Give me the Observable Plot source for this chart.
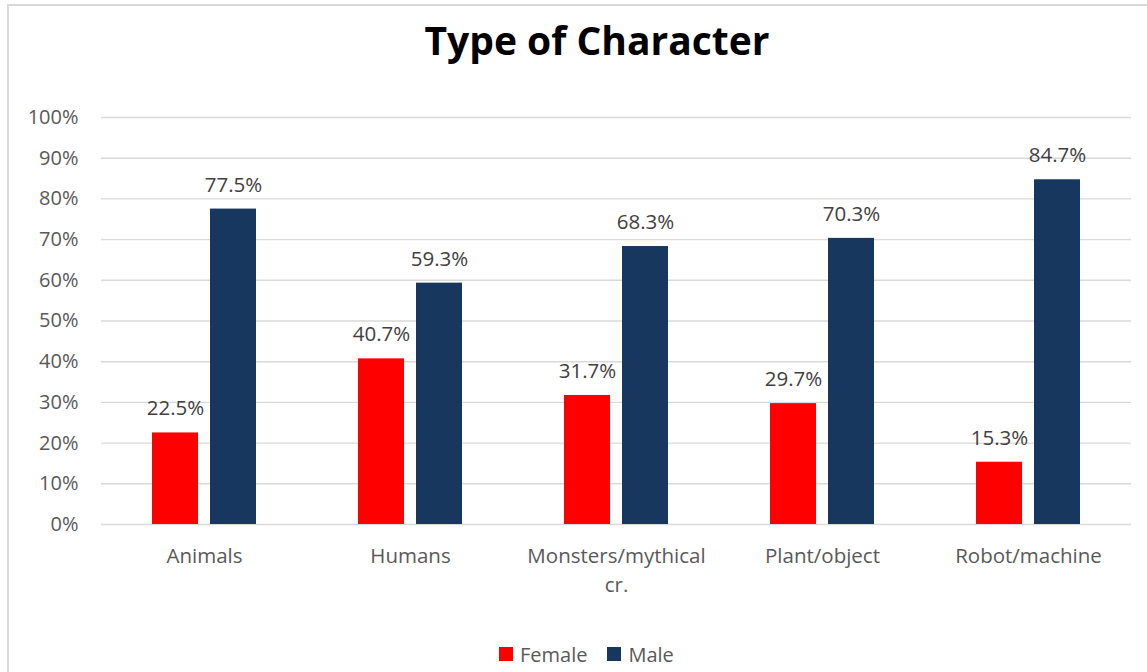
<!DOCTYPE html>
<html><head><meta charset="utf-8">
<script src="https://cdn.jsdelivr.net/npm/d3@7"></script>
<script src="https://cdn.jsdelivr.net/npm/@observablehq/plot@0.6"></script>
<style>
html,body{margin:0;padding:0;background:#fff;overflow:hidden;}
body{width:1147px;height:672px;position:relative;font-family:"Open Sans",sans-serif;}
#frame{position:absolute;left:7px;top:4px;width:1190px;height:720px;border:2px solid #d9d9d9;box-sizing:border-box;}
#title{position:absolute;left:0;top:13px;width:1194px;text-align:center;font-weight:bold;font-size:39px;line-height:54px;color:#000;}
#chart{position:absolute;left:0;top:75px;}
#legend{position:absolute;left:499px;top:640px;height:28px;display:flex;align-items:center;font-size:20px;color:#595959;}
.sw{width:14px;height:14px;display:inline-block;margin-right:7px;}
.item{display:flex;align-items:center;margin-right:20px;}
</style></head>
<body>
<div id="frame"></div>
<div id="title">Type of Character</div>
<div id="chart"></div>
<div id="legend"></div>
<script>
const categories = ["Animals", "Humans", "Monsters/mythical cr.", "Plant/object", "Robot/machine"];
const series = ["Female", "Male"];
const female = [22.5, 40.7, 31.7, 29.7, 15.3];
const male = [77.5, 59.3, 68.3, 70.3, 84.7];
const yTicks = [0, 10, 20, 30, 40, 50, 60, 70, 80, 90, 100];
const colors = ["#FF0000", "#17375E"];

const data = [];
categories.forEach((c, i) => {
  data.push({category: c, sex: "Female", value: female[i]});
  data.push({category: c, sex: "Male", value: male[i]});
});

const wrapLabel = d => d === "Monsters/mythical cr." ? "Monsters/mythical\ncr." : d;

const chart = Plot.plot({
  width: 1147,
  height: 545,
  marginTop: 42,
  marginBottom: 96,
  marginLeft: 101,
  marginRight: 16,
  style: {fontFamily: "Open Sans, sans-serif", fontSize: "20px", color: "#595959", background: "transparent"},
  fx: {domain: categories, padding: 0, label: null, axis: null},
  x: {domain: series, paddingInner: 0.207, paddingOuter: 0.877, axis: null},
  y: {domain: [0, 100], label: null, axis: null},
  color: {domain: series, range: colors},
  marks: [
    Plot.gridY(yTicks, {stroke: "#d9d9d9", strokeOpacity: 1, strokeWidth: 1.4}),
    Plot.axisY(yTicks, {tickSize: 0, tickPadding: 23, tickFormat: d => d + "%", label: null, fontSize: 20, fill: "#595959"}),
    Plot.barY(data, {fx: "category", x: "sex", y: "value", fill: "sex"}),
    Plot.text(data, {fx: "category", x: "sex", y: "value", text: d => d.value.toFixed(1) + "%", dy: -24, fill: "#404040", fontSize: 20.5}),
    Plot.axisFx({anchor: "bottom", tickSize: 0, tickPadding: 17, tickFormat: wrapLabel, label: null, fontSize: 20.5, fill: "#595959", lineHeight: 1.45})
  ]
});
document.getElementById("chart").appendChild(chart);

const legend = document.getElementById("legend");
series.forEach((s, i) => {
  const item = document.createElement("div");
  item.className = "item";
  const sw = document.createElement("span");
  sw.className = "sw";
  sw.style.background = colors[i];
  item.appendChild(sw);
  const t = document.createElement("span");
  t.textContent = s;
  item.appendChild(t);
  legend.appendChild(item);
});
</script>
</body></html>
